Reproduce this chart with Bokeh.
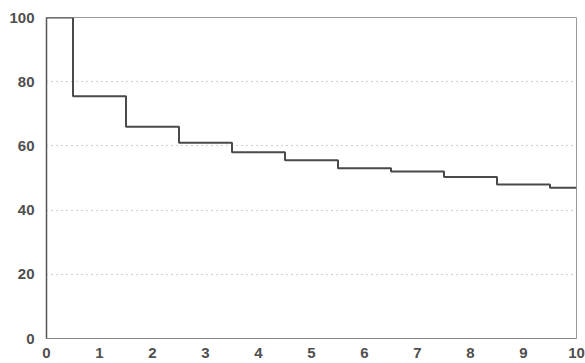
from bokeh.plotting import figure
from bokeh.models import Range1d, FixedTicker
from bokeh.embed import file_html
from bokeh.resources import INLINE

# Survival-type step curve: value held from each time point until the next
step_times = [0, 0.5, 1.5, 2.5, 3.5, 4.5, 5.5, 6.5, 7.5, 8.5, 9.5, 10]
step_values = [100, 75.5, 66, 61, 58, 55.5, 53, 52, 50.3, 48, 47, 47]
x_ticks = [0, 1, 2, 3, 4, 5, 6, 7, 8, 9, 10]
y_ticks = [0, 20, 40, 60, 80, 100]

p = figure(width=585, height=363, output_backend="svg", toolbar_location=None,
           x_range=Range1d(0, 10), y_range=Range1d(0, 100),
           min_border_left=46, min_border_right=9, min_border_top=17, min_border_bottom=25)

p.step(step_times, step_values, mode="after", line_color="#4a4a4a", line_width=2)

p.outline_line_color = "#9a9a9a"
p.outline_line_width = 1
p.background_fill_color = "white"
p.border_fill_color = "white"

p.xgrid.grid_line_color = None
p.ygrid.grid_line_color = "#9a9a9a"
p.ygrid.grid_line_dash = "1 4"
p.ygrid.grid_line_width = 1

p.xaxis.ticker = FixedTicker(ticks=x_ticks)
p.yaxis.ticker = FixedTicker(ticks=y_ticks)

for ax in (p.xaxis[0], p.yaxis[0]):
    ax.major_tick_line_color = None
    ax.minor_tick_line_color = None
    ax.major_label_text_font = "Liberation Sans"
    ax.major_label_text_font_style = "bold"
    ax.major_label_text_font_size = "15px"
    ax.major_label_text_color = "#4f4f4f"

p.yaxis.axis_line_color = "#555555"
p.yaxis.axis_line_width = 1.5
p.xaxis.axis_line_color = "#888888"
p.yaxis.major_label_standoff = 6
p.xaxis.major_label_standoff = 3

open("out.html", "w").write(file_html(p, INLINE))
